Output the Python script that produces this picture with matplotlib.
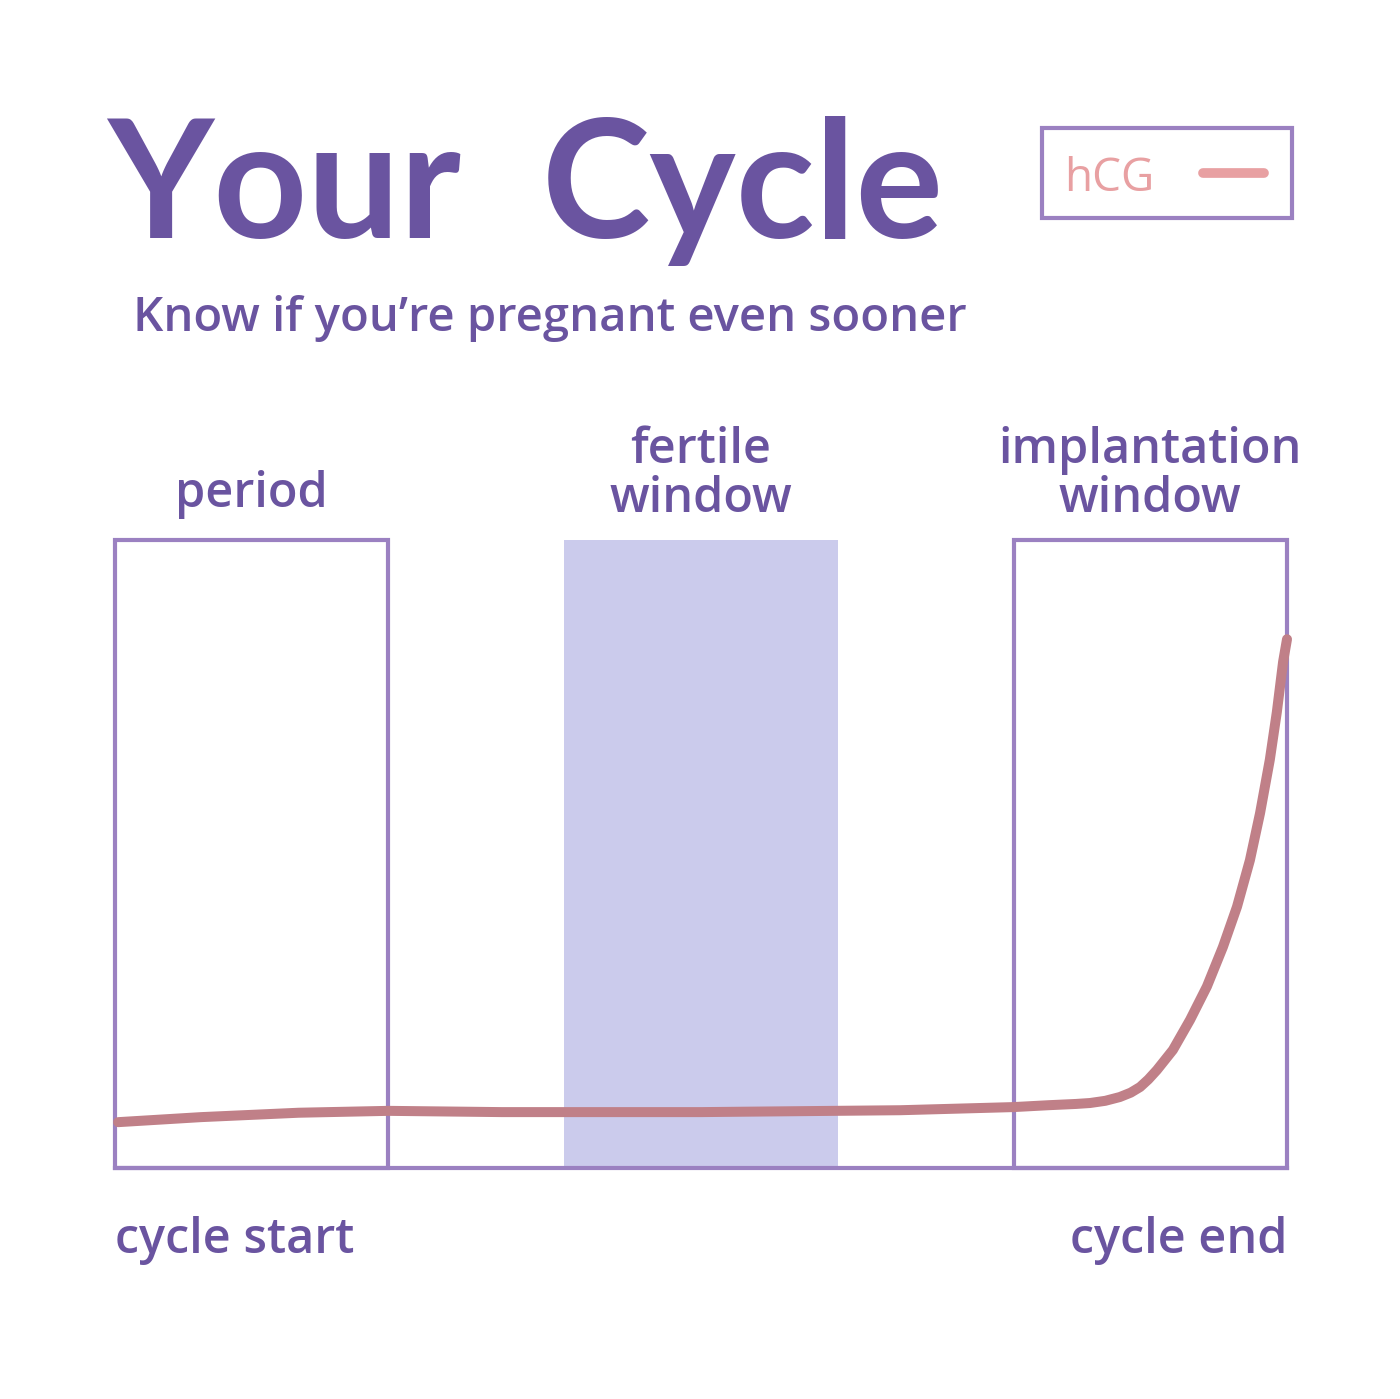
import matplotlib.pyplot as plt
from matplotlib.patches import Rectangle
from matplotlib.transforms import blended_transform_factory

W, H = 1400, 1399

# cycle positions (0 = cycle start, 30 = cycle end)
phases = ["period", "fertile\nwindow", "implantation\nwindow"]
phase_start = [0.0, 11.5, 23.0]
phase_end = [7.0, 18.5, 30.0]

# hCG level (0 = baseline, 100 = top of boxes)
hcg_x = [0.08, 2.2, 4.7, 7.0, 9.9, 15.0, 20.1, 23.0, 23.9, 24.6, 24.96, 25.35, 25.72,
         26.0, 26.24, 26.45, 26.67, 27.08, 27.52, 27.95, 28.36, 28.72, 29.05, 29.31,
         29.56, 29.74, 29.9, 30.0]
hcg_y = [7.3, 8.1, 8.8, 9.1, 8.9, 8.9, 9.2, 9.7, 10.0, 10.2, 10.35, 10.7, 11.3,
         12.0, 12.9, 14.1, 15.6, 18.8, 23.6, 28.9, 35.2, 41.6, 49.0, 56.5,
         65.0, 72.6, 80.6, 84.2]

PURPLE = "#6a54a0"
EDGE = "#9b81c1"
FILL = "#cbcbec"
CURVE = "#c08088"
PINK = "#e8a0a2"
BODY = ["Open Sans", "DejaVu Sans"]
TITLE = ["Lato", "DejaVu Sans"]

plt.rcParams["font.family"] = BODY

fig = plt.figure(figsize=(W / 100, H / 100), dpi=100)
fig.patch.set_facecolor("white")


def fx(px):
    return px / W


def fy(py):
    return 1 - py / H


ax = fig.add_axes([fx(115), fy(1168), fx(1287) - fx(115), fy(540) - fy(1168)])
ax.set_xlim(0, 30)
ax.set_ylim(0, 100)
ax.axis("off")

for i, (a, b) in enumerate(zip(phase_start, phase_end)):
    if i == 1:
        ax.add_patch(Rectangle((a, 0), b - a, 100, facecolor=FILL, edgecolor="none", zorder=1))
    else:
        ax.add_patch(Rectangle((a, 0), b - a, 100, facecolor="none", edgecolor=EDGE,
                               linewidth=3.0, zorder=2, clip_on=False))
ax.plot([phase_start[0], phase_end[-1]], [0, 0], color=EDGE, linewidth=3.0,
        solid_capstyle="projecting", zorder=2, clip_on=False)

ax.plot(hcg_x, hcg_y, color=CURVE, linewidth=7.2, solid_capstyle="round",
        solid_joinstyle="round", zorder=3, clip_on=False)

# phase labels
tr = blended_transform_factory(ax.transData, fig.transFigure)
label_base = [fy(507), fy(512), fy(512)]
for name, a, b, yb in zip(phases, phase_start, phase_end, label_base):
    ax.text((a + b) / 2, yb, name, transform=tr, ha="center", va="baseline",
            fontsize=35, color=PURPLE, fontweight="semibold", linespacing=1.0)

ax.text(phase_start[0], fy(1253), "cycle start", transform=tr, ha="left", va="baseline",
        fontsize=35, color=PURPLE, fontweight="semibold")
ax.text(phase_end[-1], fy(1253), "cycle end", transform=tr, ha="right", va="baseline",
        fontsize=35, color=PURPLE, fontweight="semibold")

# title and subtitle
fig.text(fx(284), fy(238), "Your", ha="center", va="baseline", fontsize=118,
         fontweight="bold", color=PURPLE, family=TITLE)
fig.text(fx(743), fy(238), "Cycle", ha="center", va="baseline", fontsize=118,
         fontweight="bold", color=PURPLE, family=TITLE)
fig.text(fx(133), fy(331), "Know if you\u2019re pregnant even sooner", ha="left",
         va="baseline", fontsize=34, color=PURPLE, fontweight="semibold")

# legend box
fig.patches.append(Rectangle((fx(1042), fy(218)), fx(1292) - fx(1042), fy(128) - fy(218),
                             transform=fig.transFigure, facecolor="none", edgecolor=EDGE,
                             linewidth=3.0))
fig.text(fx(1064), fy(191), "hCG", ha="left", va="baseline", fontsize=33, color=PINK)
fig.add_artist(plt.Line2D([fx(1203), fx(1264)], [fy(173), fy(173)], transform=fig.transFigure,
                          color=PINK, linewidth=7, solid_capstyle="round"))

fig.savefig("out.png", dpi=100)
